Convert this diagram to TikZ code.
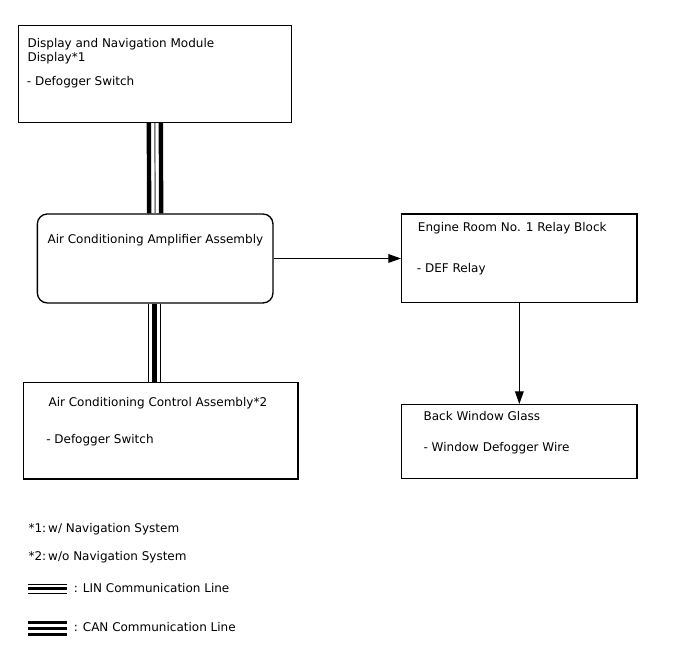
\documentclass[tikz,border=0pt]{standalone}
\usepackage{fontspec}
\setmainfont{DejaVu Sans}
\usetikzlibrary{positioning}
\usetikzlibrary{calc}
\usetikzlibrary{arrows.meta}

\begin{document}
\begin{tikzpicture}[x=0.75pt, y=-0.75pt, font=\fontsize{9}{11}\selectfont,
    box/.style={draw, line width=1pt, inner sep=0pt, anchor=north west},
    txt/.style={anchor=base west, inner sep=0pt},
    sig/.style={-{Triangle[length=9.5pt, width=6.5pt]}, line width=0.9pt},
    thickbus/.style={line width=3.3pt},
    midbus/.style={line width=1.1pt, gray},
    thinbus/.style={line width=0.7pt}]

    \useasboundingbox (0,0) rectangle (688,658);

    % boxes
    \node[box, minimum width=205pt, minimum height=72.75pt] (dnm) at (17.5,24.5) {};
    \node[box, rounded corners=7.5pt, minimum width=176.7pt, minimum height=66.75pt] (amp) at (36.7,213.3) {};
    \node[box, minimum width=176.5pt, minimum height=66.5pt] (eng) at (401,213.3) {};
    \node[box, minimum width=206pt, minimum height=72.5pt] (ctl) at (22.7,381.7) {};
    \node[box, minimum width=176.5pt, minimum height=55.5pt] (bwg) at (401,404) {};

    % texts
    \node[txt] (dnmA) at (27.3,47) {Display and Navigation Module};
    \node[txt] (dnmB) at (27.3,61.5) {Display*1};
    \node[txt] (dnmC) at (26.7,85.3) {- Defogger Switch};
    \node[txt] (ampA) at (47.3,243.3) {Air Conditioning Amplifier Assembly};
    \node[txt] (engA) at (417.7,231.7) {Engine Room No. 1 Relay Block};
    \node[txt] (engB) at (416.7,272.3) {- DEF Relay};
    \node[txt] (ctlA) at (48.3,406) {Air Conditioning Control Assembly*2};
    \node[txt] (ctlB) at (46,443.3) {- Defogger Switch};
    \node[txt] (bwgA) at (423.3,420.7) {Back Window Glass};
    \node[txt] (bwgB) at (423.3,451.2) {- Window Defogger Wire};

    % CAN and LIN lines
    \foreach \dx/\st in {-6/thickbus, 0/midbus, 6/thickbus}
        \draw[\st] ($(dnm.south)+(\dx,0)$) -- ($(amp.north)+(\dx,0)$);
    \foreach \dx/\st in {-6.5/thinbus, -0.8/thickbus, 5/thinbus}
        \draw[\st] ($(amp.south)+(\dx,0)$) -- ($(amp.south |- ctl.north)+(\dx,0)$);

    % signal lines
    \draw[sig] (amp.east) -- (amp.east -| eng.west);
    \draw[sig] (eng.south) -- (eng.south |- bwg.north);

    % notes
    \node[txt] (noteA) at (28.3,532.7) {*1:\,w/ Navigation System};
    \node[txt] (noteB) at (28.3,560.5) {*2:\,w/o Navigation System};

    % legend
    \coordinate (linL) at (28,588.7);
    \coordinate (linR) at (67,588.7);
    \draw[thinbus] ($(linL)+(0,-4)$) -- ($(linR)+(0,-4)$);
    \draw[line width=2pt] (linL) -- (linR);
    \draw[thinbus] ($(linL)+(0,5)$) -- ($(linR)+(0,5)$);
    \node[txt] (linT) at (73.5,592.5) {: LIN Communication Line};

    \coordinate (canL) at (28,628.7);
    \coordinate (canR) at (67,628.7);
    \foreach \dy in {-6,0,6}
        \draw[line width=2pt] ($(canL)+(0,\dy)$) -- ($(canR)+(0,\dy)$);
    \node[txt] (canT) at (73.5,631.5) {: CAN Communication Line};

\end{tikzpicture}
\end{document}
